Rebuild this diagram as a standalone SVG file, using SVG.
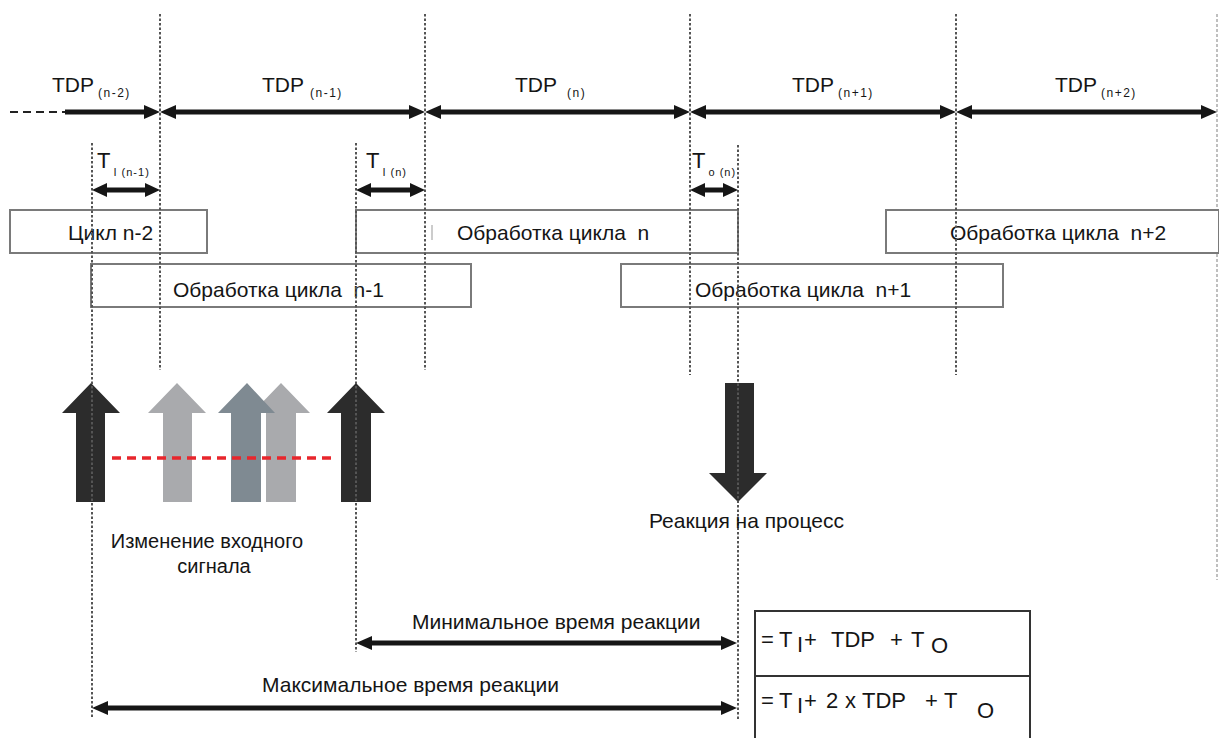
<svg xmlns="http://www.w3.org/2000/svg" width="1219" height="738" viewBox="0 0 1219 738">
<defs>
<style>
text{font-family:"Liberation Sans",Arial,sans-serif;fill:#151515;}
.tdp{font-size:21px;}
.sub{font-size:12px;letter-spacing:1.5px;}
.tsub{font-size:11px;letter-spacing:1px;}
.lbl{font-size:21px;}
.lbl20{font-size:20px;}
.fx{font-size:22px;}
.box{fill:#fff;stroke:#7a7a7a;stroke-width:2;}
.vd{stroke:#555;stroke-width:2;stroke-dasharray:2.5 2;fill:none;}
.vl{stroke:#aaa;stroke-width:1.5;stroke-dasharray:3 2;fill:none;}
.ar{stroke:#161616;stroke-width:5;fill:none;marker-start:url(#ah);marker-end:url(#ah);}
.ar1{stroke:#161616;stroke-width:5;fill:none;marker-end:url(#ah);}
.sar{stroke:#161616;stroke-width:5;fill:none;marker-start:url(#ahs);marker-end:url(#ahs);}
</style>
<marker id="ah" markerUnits="userSpaceOnUse" markerWidth="18" markerHeight="16" refX="6" refY="8" orient="auto-start-reverse" viewBox="0 0 18 16">
<path d="M0,1 L16,8 L0,15 z" fill="#161616"/>
</marker>
<marker id="ahs" markerUnits="userSpaceOnUse" markerWidth="18" markerHeight="16" refX="5" refY="8" orient="auto-start-reverse" viewBox="0 0 18 16">
<path d="M0,1 L15,8 L0,15 z" fill="#161616"/>
</marker>
</defs>
<rect width="1219" height="738" fill="#fff"/>

<g id="gridlines">
<line class="vl" x1="1217" y1="14" x2="1217" y2="580"/>
</g>

<g id="boxes">
<g id="box-n-2"><rect class="box" x="10" y="210" width="197" height="43"/><text class="lbl" x="68" y="240">Цикл n-2</text></g>
<g id="box-n"><rect class="box" x="356" y="210" width="382" height="43"/><line x1="432" y1="225" x2="432" y2="240" stroke="#999" stroke-width="1"/><text class="lbl" x="457" y="240">Обработка цикла&#160; n</text></g>
<g id="box-n+2"><rect class="box" x="886" y="210" width="333" height="43"/><text class="lbl" x="950" y="240">Обработка цикла&#160; n+2</text></g>
<g id="box-n-1"><rect class="box" x="91" y="264" width="380" height="43"/><text class="lbl" x="173" y="297">Обработка цикла&#160; n-1</text></g>
<g id="box-n+1"><rect class="box" x="621" y="264" width="382" height="43"/><text class="lbl" x="695" y="297">Обработка цикла&#160; n+1</text></g>
</g>

<g id="gridlines2">
<line class="vd" x1="160" y1="14" x2="160" y2="370"/>
<line class="vd" x1="425" y1="14" x2="425" y2="370"/>
<line class="vd" x1="690" y1="14" x2="690" y2="375"/>
<line class="vd" x1="956" y1="14" x2="956" y2="375"/>
</g>

<g id="signal-arrows">
<polygon fill="#2c2c2c" points="91,383 120,413 105,413 105,502 76,502 76,413 62,413"/>
<polygon fill="#a9aaad" points="177,383 206,413 192,413 192,502 163,502 163,413 148,413"/>
<polygon fill="#a9aaad" points="281,383 310,413 296,413 296,502 266,502 266,413 252,413"/>
<polygon fill="#7f8a92" points="247,383 275,413 261,413 261,502 231,502 231,413 218,413"/>
<polygon fill="#2c2c2c" points="356,383 385,413 371,413 371,502 341,502 341,413 327,413"/>
<polygon fill="#2c2c2c" points="725,383 754,383 754,473 767,473 738,502 709,473 725,473"/>
<line x1="112" y1="458" x2="335" y2="458" stroke="#e8262c" stroke-width="3.5" stroke-dasharray="9 6"/>
</g>

<g id="reflines">
<line class="vd" x1="92" y1="143" x2="92" y2="718"/>
<line class="vd" x1="356" y1="143" x2="356" y2="652"/>
<line class="vd" x1="738" y1="145" x2="738" y2="720"/>
</g>

<g id="connectors">
<line x1="10" y1="112" x2="65" y2="112" stroke="#222" stroke-width="2" stroke-dasharray="8 5"/>
<line class="ar1" x1="65" y1="112" x2="150" y2="112"/>
<line class="ar" x1="170" y1="112" x2="415" y2="112"/>
<line class="ar" x1="435" y1="112" x2="680" y2="112"/>
<line class="ar" x1="700" y1="112" x2="946" y2="112"/>
<line class="ar" x1="966" y1="112" x2="1207" y2="112"/>
<line class="sar" x1="102" y1="190" x2="150" y2="190"/>
<line class="sar" x1="366" y1="190" x2="415" y2="190"/>
<line class="sar" x1="700" y1="190" x2="728" y2="190"/>
<line class="ar" x1="366" y1="643" x2="727" y2="643"/>
<line class="ar" x1="102" y1="708" x2="727" y2="708"/>
</g>

<g id="tdp-labels">
<text class="tdp" x="52" y="92">TDP<tspan class="sub" dx="4" dy="5">(n-2)</tspan></text>
<text class="tdp" x="262" y="92">TDP<tspan class="sub" dx="6" dy="5">(n-1)</tspan></text>
<text class="tdp" x="515" y="92">TDP<tspan class="sub" dx="10" dy="5">(n)</tspan></text>
<text class="tdp" x="792" y="92">TDP<tspan class="sub" dx="4" dy="5">(n+1)</tspan></text>
<text class="tdp" x="1055" y="92">TDP<tspan class="sub" dx="4" dy="5">(n+2)</tspan></text>
</g>

<g id="t-labels">
<text class="fx" x="97" y="168">T<tspan class="tsub" dx="3" dy="8">I (n-1)</tspan></text>
<text class="fx" x="366" y="168">T<tspan class="tsub" dx="3" dy="8">I (n)</tspan></text>
<text class="fx" x="692" y="168">T<tspan class="tsub" dx="3" dy="8">o (n)</tspan></text>
</g>

<g id="captions">
<text class="lbl20" x="207" y="548" text-anchor="middle">Изменение входного</text>
<text class="lbl20" x="214" y="573" text-anchor="middle">сигнала</text>
<text class="lbl" x="649" y="528">Реакция на процесс</text>
<text class="lbl" x="412" y="629">Минимальное время реакции</text>
<text class="lbl" x="262" y="692">Максимальное время реакции</text>
</g>

<g id="formula-box">
<rect x="755" y="611" width="275" height="135" fill="none" stroke="#333" stroke-width="2"/>
<line x1="755" y1="676" x2="1030" y2="676" stroke="#333" stroke-width="2"/>
<text class="fx"><tspan x="761" y="647">=</tspan><tspan x="779" y="647">T</tspan><tspan x="797" y="652">I</tspan><tspan x="804" y="647">+</tspan><tspan x="831" y="647">TDP</tspan><tspan x="890" y="647">+</tspan><tspan x="911" y="647">T</tspan><tspan x="931" y="653">O</tspan></text>
<text class="fx"><tspan x="761" y="708">=</tspan><tspan x="779" y="708">T</tspan><tspan x="797" y="713">I</tspan><tspan x="804" y="708">+</tspan><tspan x="826" y="708">2</tspan><tspan x="845" y="708">x</tspan><tspan x="862" y="708">TDP</tspan><tspan x="925" y="708">+</tspan><tspan x="944" y="708">T</tspan><tspan x="977" y="718">O</tspan></text>
</g>
</svg>
